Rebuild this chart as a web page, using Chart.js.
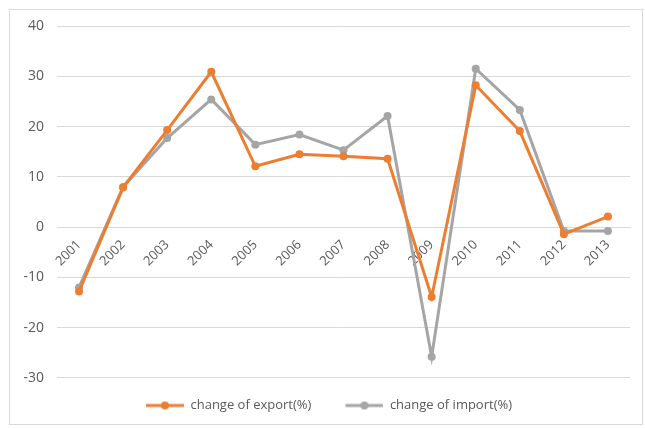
<!DOCTYPE html>
<html>
<head>
<meta charset="utf-8">
<script src="https://cdn.jsdelivr.net/npm/chart.js@4.4.1/dist/chart.umd.min.js"></script>
<style>
  html, body { margin: 0; padding: 0; background: #ffffff; }
  #wrap { position: relative; width: 645px; height: 428px; }
</style>
</head>
<body>
<div id="wrap"><canvas id="chart" width="645" height="428"></canvas></div>
<script>
// Year-on-year change of trade, in percent
const years = ['2001', '2002', '2003', '2004', '2005', '2006', '2007', '2008', '2009', '2010', '2011', '2012', '2013'];
const exportChange = [-12.8, 7.9, 19.3, 30.9, 12.1, 14.5, 14.1, 13.6, -13.9, 28.2, 19.1, -1.4, 2.1];
const importChange = [-12.0, 8.0, 17.7, 25.4, 16.4, 18.4, 15.3, 22.1, -25.8, 31.5, 23.3, -0.8, -0.8];
const yTicks = [40, 30, 20, 10, 0, -10, -20, -30];

const ORANGE = '#ED7D31';
const GREY = '#A5A5A5';
const TEXT = '#595959';
const FONT = "'Open Sans', 'Liberation Sans', sans-serif";

// Legend swatch: a short line with a marker, after a blank lead-in that spaces the items apart
const SWATCH_GAP = 28;
const SWATCH_LINE = 38;
function swatch(color) {
  const c = document.createElement('canvas');
  c.width = SWATCH_GAP + SWATCH_LINE; c.height = 10;
  const g = c.getContext('2d');
  g.strokeStyle = color; g.lineWidth = 3;
  g.beginPath(); g.moveTo(SWATCH_GAP, 5); g.lineTo(SWATCH_GAP + SWATCH_LINE, 5); g.stroke();
  g.fillStyle = color;
  g.beginPath(); g.arc(SWATCH_GAP + SWATCH_LINE / 2, 5, 4, 0, Math.PI * 2); g.fill();
  return c;
}

// White background and thin frame around the chart
const framePlugin = {
  id: 'frame',
  beforeDraw(chart) {
    const ctx = chart.ctx;
    ctx.save();
    ctx.fillStyle = '#ffffff';
    ctx.fillRect(0, 0, chart.width, chart.height);
    ctx.strokeStyle = '#d9d9d9';
    ctx.lineWidth = 1;
    ctx.strokeRect(9.5, 9.5, 633, 415);
    ctx.restore();
  }
};

new Chart(document.getElementById('chart'), {
  type: 'line',
  data: {
    labels: years,
    datasets: [
      {
        label: 'change of export(%)',
        data: exportChange,
        borderColor: ORANGE,
        backgroundColor: ORANGE,
        borderWidth: 3,
        pointRadius: 4,
        pointBorderWidth: 0,
        tension: 0
      },
      {
        label: 'change of import(%)',
        data: importChange,
        borderColor: GREY,
        backgroundColor: GREY,
        borderWidth: 3,
        pointRadius: 4,
        pointBorderWidth: 0,
        tension: 0
      }
    ]
  },
  options: {
    responsive: false,
    animation: false,
    layout: { padding: { top: 26, left: 0, right: 15, bottom: 6 } },
    plugins: {
      tooltip: { enabled: false },
      legend: {
        position: 'bottom',
        labels: {
          usePointStyle: true,
          pointStyleWidth: SWATCH_GAP + SWATCH_LINE,
          generateLabels(chart) {
            return chart.data.datasets.map((ds, i) => ({
              text: ds.label,
              fillStyle: ds.borderColor,
              strokeStyle: ds.borderColor,
              pointStyle: swatch(ds.borderColor),
              fontColor: TEXT,
              lineWidth: 0,
              hidden: false,
              datasetIndex: i
            }));
          },
          color: TEXT,
          font: { family: FONT, size: 13 },
          padding: 6
        }
      }
    },
    scales: {
      x: {
        position: { y: 0 },
        offset: true,
        grid: { display: false },
        border: { display: true, color: '#d9d9d9', width: 1 },
        ticks: {
          color: TEXT,
          font: { family: FONT, size: 13 },
          minRotation: 45,
          maxRotation: 45,
          padding: 2
        }
      },
      y: {
        min: -33,
        max: 40,
        afterBuildTicks(axis) {
          axis.ticks = yTicks.map(v => ({ value: v }));
        },
        afterFit(axis) { axis.width = 57; },
        grid: { color: '#d9d9d9', lineWidth: 1, drawTicks: false },
        border: { display: false },
        ticks: {
          color: TEXT,
          font: { family: FONT, size: 14 },
          padding: 13
        }
      }
    }
  },
  plugins: [framePlugin]
});
</script>
</body>
</html>
